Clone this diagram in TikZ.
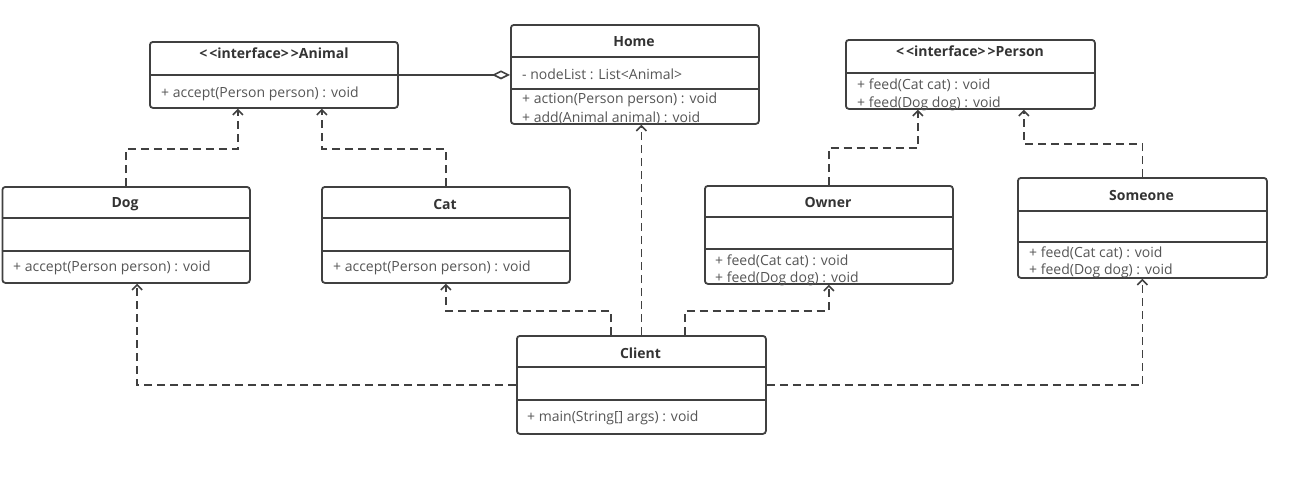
\documentclass[tikz,border=0pt]{standalone}
\usepackage{fontspec}
\setmainfont{Open Sans}
\usetikzlibrary{arrows.meta,calc}
\definecolor{ln}{HTML}{404040}
\definecolor{tx}{HTML}{555555}
\definecolor{hd}{HTML}{333333}
\begin{document}
\begin{tikzpicture}[x=1pt,y=-1pt,
 cls/.style={draw=ln, line width=1.8pt, rounded corners=3pt, inner sep=0pt, anchor=north west},
 div/.style={draw=ln, line width=1.8pt},
 hdr/.style={font=\fontsize{14}{16}\selectfont\bfseries, text=hd, inner sep=0pt},
 mem/.style={font=\fontsize{14}{16}\selectfont, text=tx, inner sep=0pt, anchor=west},
 real/.style={draw=ln, line width=1.8pt, dash pattern=on 8pt off 5pt, -{Straight Barb[length=5pt,width=10pt,line width=1.6pt]}},
 agg/.style={draw=ln, line width=1.8pt, -{Diamond[open,length=18pt,width=9pt,line width=1.6pt]}},
]
\useasboundingbox (0,0) rectangle (1293,480);

% Animal
\node[cls, minimum width=248pt, minimum height=66pt] (animal) at (149,41) {};
\draw[div] (animal.west |- 0,75) -- (animal.east |- 0,75);
\node[hdr] (animalH) at (274,53) {<\kern2pt<interface>\kern2pt>Animal};
\node[mem] (animalM1) at (161,94) {+ accept(Person person) : void};

% Home
\node[cls, minimum width=248pt, minimum height=99pt] (home) at (510,24) {};
\draw[div] (home.west |- 0,57) -- (home.east |- 0,57);
\draw[div] (home.west |- 0,89) -- (home.east |- 0,89);
\node[hdr] (homeH) at (634,42) {Home};
\node[mem] (homeA1) at (522,74) {- nodeList : List<Animal>};
\node[mem] (homeM1) at (522,100) {+ action(Person person) : void};
\node[mem] (homeM2) at (522,118) {+ add(Animal animal) : void};

% Person
\node[cls, minimum width=249pt, minimum height=69pt] (person) at (845,39) {};
\draw[div] (person.west |- 0,73) -- (person.east |- 0,73);
\node[hdr] (personH) at (970,51) {<\kern2pt<interface>\kern2pt>Person};
\node[mem] (personM1) at (857,85) {+ feed(Cat cat) : void};
\node[mem] (personM2) at (857,104) {+ feed(Dog dog) : void};

% Dog
\node[cls, minimum width=247.5pt, minimum height=96pt] (dog) at (1.5,186) {};
\draw[div] (dog.west |- 0,218) -- (dog.east |- 0,218);
\draw[div] (dog.west |- 0,251) -- (dog.east |- 0,251);
\node[hdr] (dogH) at (125,204) {Dog};
\node[mem] (dogM1) at (13,268) {+ accept(Person person) : void};

% Cat
\node[cls, minimum width=248pt, minimum height=96pt] (cat) at (321,186) {};
\draw[div] (cat.west |- 0,218) -- (cat.east |- 0,218);
\draw[div] (cat.west |- 0,251) -- (cat.east |- 0,251);
\node[hdr] (catH) at (445,204) {Cat};
\node[mem] (catM1) at (333,268) {+ accept(Person person) : void};

% Owner
\node[cls, minimum width=248pt, minimum height=98pt] (owner) at (704,185) {};
\draw[div] (owner.west |- 0,217) -- (owner.east |- 0,217);
\draw[div] (owner.west |- 0,249) -- (owner.east |- 0,249);
\node[hdr] (ownerH) at (828,202) {Owner};
\node[mem] (ownerM1) at (715,261) {+ feed(Cat cat) : void};
\node[mem] (ownerM2) at (715,279) {+ feed(Dog dog) : void};

% Someone
\node[cls, minimum width=249pt, minimum height=100pt] (someone) at (1017,177) {};
\draw[div] (someone.west |- 0,211) -- (someone.east |- 0,211);
\draw[div] (someone.west |- 0,242) -- (someone.east |- 0,242);
\node[hdr] (someoneH) at (1141.5,195) {Someone};
\node[mem] (someoneM1) at (1029,253) {+ feed(Cat cat) : void};
\node[mem] (someoneM2) at (1029,271) {+ feed(Dog dog) : void};

% Client
\node[cls, minimum width=249pt, minimum height=98pt] (client) at (516,335) {};
\draw[div] (client.west |- 0,367) -- (client.east |- 0,367);
\draw[div] (client.west |- 0,400) -- (client.east |- 0,400);
\node[hdr] (clientH) at (640.5,353) {Client};
\node[mem] (clientM1) at (527,418) {+ main(String[] args) : void};

% helper coordinates
\coordinate (aL) at ([xshift=-36pt]animal.south);
\coordinate (aR) at ([xshift=48pt]animal.south);
\coordinate (pL) at ([xshift=-52.5pt]person.south);
\coordinate (pR) at ([xshift=53.5pt]person.south);
\coordinate (cL) at ([xshift=-30.5pt]client.north);
\coordinate (cR) at ([xshift=43.5pt]client.north);
\coordinate (dB) at ([xshift=11pt]dog.south);

% connectors
\draw[agg] (animal.east) -- (animal.east -| home.west);
\draw[real] (dog.north) |- ($(aL)+(0,40)$) -- (aL);
\draw[real] (cat.north) |- ($(aR)+(0,40)$) -- (aR);
\draw[real] (owner.north) |- ($(pL)+(0,38)$) -- (pL);
\draw[real] (someone.north) |- ($(pR)+(0,34)$) -- (pR);
\draw[real] (client.north) -- (client.north |- home.south);
\draw[real] (cL) |- ($(cat.south)+(0,27)$) -- (cat.south);
\draw[real] (cR) |- ($(owner.south)+(0,26)$) -- (owner.south);
\draw[real] (client.west) -| (dB);
\draw[real] (client.east) -| (someone.south);
\end{tikzpicture}
\end{document}
